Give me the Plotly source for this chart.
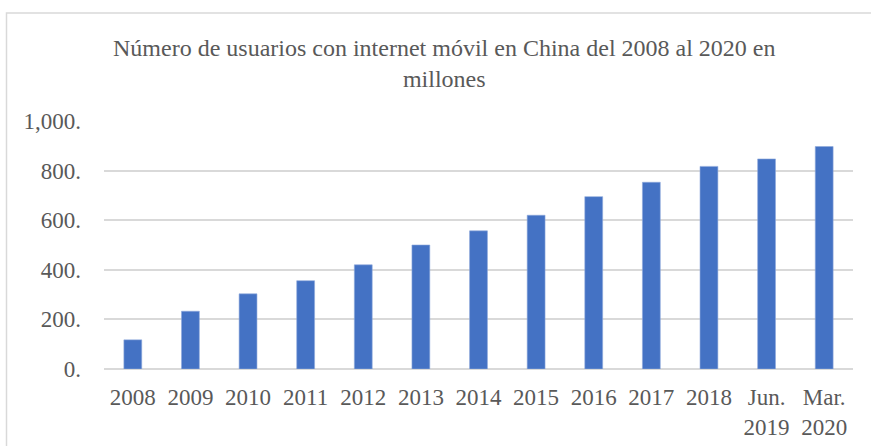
import plotly.graph_objects as go

# Mobile internet users in China (millions)
categories = ["2008", "2009", "2010", "2011", "2012", "2013", "2014",
              "2015", "2016", "2017", "2018", "Jun.<br>2019", "Mar.<br>2020"]
users_millions = [117.6, 233, 303, 356, 420, 500, 557, 620, 695, 753, 817, 847, 897]

y_tick_values = [0, 200, 400, 600, 800, 1000]
y_tick_labels = ["0.", "200.", "400.", "600.", "800.", "1,000."]

title_text = "Número de usuarios con internet móvil en China del 2008 al 2020 en<br>millones"

W, H = 871, 446
ML, MR, MT, MB = 104, 18, 121, 77
FONT = "Liberation Serif"
TEXT_GRAY = "#595959"
GRID_GRAY = "#d9d9d9"

fig = go.Figure(
    go.Bar(
        x=categories,
        y=users_millions,
        marker=dict(color="#4472C4", line=dict(color="#8eaadb", width=0.6)),
        hoverinfo="x+y",
    )
)

plot_w = W - ML - MR
plot_h = H - MT - MB

fig.update_layout(
    width=W,
    height=H,
    margin=dict(l=ML, r=MR, t=MT, b=MB, autoexpand=False),
    paper_bgcolor="white",
    plot_bgcolor="white",
    bargap=0.69,
    showlegend=False,
    font=dict(family=FONT, color=TEXT_GRAY),
    xaxis=dict(
        type="category",
        automargin=False,
        showgrid=False,
        showline=False,
        zeroline=False,
        ticks="",
        tickfont=dict(family=FONT, size=23, color=TEXT_GRAY),
        ticklabelstandoff=12,
        fixedrange=True,
    ),
    yaxis=dict(
        range=[0, 1000],
        automargin=False,
        tickvals=y_tick_values,
        ticktext=y_tick_labels,
        showgrid=True,
        gridcolor=GRID_GRAY,
        gridwidth=1.5,
        zeroline=True,
        zerolinecolor=GRID_GRAY,
        zerolinewidth=1.5,
        showline=False,
        ticks="",
        tickfont=dict(family=FONT, size=23, color=TEXT_GRAY),
        ticklabelstandoff=22,
        fixedrange=True,
    ),
    annotations=[
        # chart title, two centred lines
        dict(
            text=title_text,
            xref="paper", yref="paper",
            x=(444.5 - ML) / plot_w,
            y=(H - 33 - MB) / plot_h,
            xanchor="center",
            yanchor="top",
            showarrow=False,
            align="center",
            font=dict(family=FONT, size=24, color=TEXT_GRAY),
        )
    ],
    shapes=[
        # light frame around the whole chart area
        dict(
            type="rect",
            xref="paper", yref="paper",
            x0=(6.5 - ML) / plot_w,
            x1=(W + 5 - ML) / plot_w,
            y0=(MB - (H + 5)) / plot_h,
            y1=(H - 13 - MB) / plot_h,
            line=dict(color="#d9d9d9", width=1.5),
            fillcolor="rgba(0,0,0,0)",
            layer="below",
        )
    ],
)

fig.write_html("out.html")
